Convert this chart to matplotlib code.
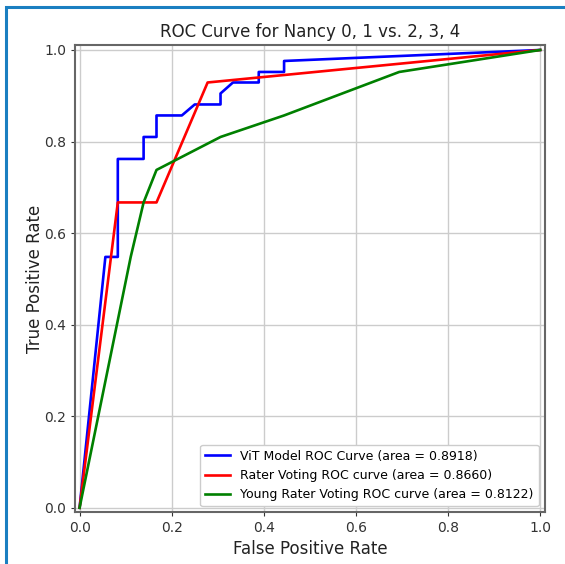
import matplotlib.pyplot as plt
from matplotlib.patches import Rectangle

# ROC points
vit_fpr = [0.0, 0.056, 0.083, 0.083, 0.139, 0.139, 0.167, 0.167, 0.222, 0.250,
           0.306, 0.306, 0.333, 0.389, 0.389, 0.444, 0.444, 1.0]
vit_tpr = [0.0, 0.548, 0.548, 0.762, 0.762, 0.810, 0.810, 0.857, 0.857, 0.881,
           0.881, 0.905, 0.929, 0.929, 0.952, 0.952, 0.976, 1.0]
vit_auc = 0.8918

rater_fpr = [0.0, 0.083, 0.167, 0.278, 1.0]
rater_tpr = [0.0, 0.667, 0.667, 0.929, 1.0]
rater_auc = 0.8660

young_fpr = [0.0, 0.111, 0.139, 0.167, 0.306, 0.444, 0.694, 1.0]
young_tpr = [0.0, 0.548, 0.667, 0.738, 0.810, 0.857, 0.952, 1.0]
young_auc = 0.8122

ticks = [0.0, 0.2, 0.4, 0.6, 0.8, 1.0]

fig = plt.figure(figsize=(5.65, 5.64), dpi=100)
ax = fig.add_axes([0.1327, 0.0915, 0.8315, 0.828])

ax.plot(vit_fpr, vit_tpr, color='blue', lw=1.9,
        label='ViT Model ROC Curve (area = %0.4f)' % vit_auc)
ax.plot(rater_fpr, rater_tpr, color='red', lw=1.9,
        label='Rater Voting ROC curve (area = %0.4f)' % rater_auc)
ax.plot(young_fpr, young_tpr, color='green', lw=1.9,
        label='Young Rater Voting ROC curve (area = %0.4f)' % young_auc)

ax.set_xlim(-0.01, 1.01)
ax.set_ylim(-0.01, 1.01)
ax.set_xticks(ticks)
ax.set_yticks(ticks)
ax.tick_params(labelsize=10, colors='#333333', length=3)
ax.grid(True, color='#cccccc', lw=1)
for s in ax.spines.values():
    s.set_color('#666666')
    s.set_linewidth(1.5)

ax.set_title('ROC Curve for Nancy 0, 1 vs. 2, 3, 4', fontsize=12, color='#222222', pad=6)
ax.set_xlabel('False Positive Rate', fontsize=12, color='#222222', labelpad=3)
ax.set_ylabel('True Positive Rate', fontsize=12, color='#222222', labelpad=0)
ax.legend(loc='lower right', fontsize=9, framealpha=1, edgecolor='#cccccc')

# blue frame around the screenshot
fig.patches.append(Rectangle((0.0115, -0.1), 1.2, 1.0876, transform=fig.transFigure,
                             fill=False, edgecolor='#1a7fc1', lw=2.2))

fig.savefig('out.png', dpi=100)
